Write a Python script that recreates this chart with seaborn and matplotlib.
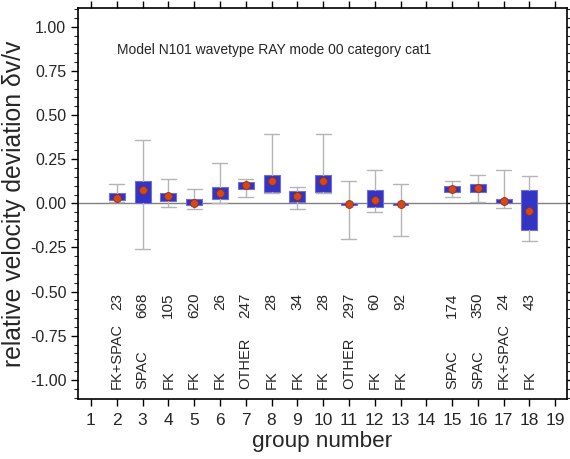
import numpy as np
import pandas as pd
import matplotlib
matplotlib.use('Agg')
import matplotlib.pyplot as plt
import seaborn as sns
from matplotlib.ticker import MultipleLocator, FormatStrFormatter

# ── Data ─────────────────────────────────────────────────────
groups     = [2, 3, 4, 5, 6, 7, 8, 9, 10, 11, 12, 13, 15, 16, 17, 18]
whisk_low  = [0.007, -0.256, -0.021, -0.034, 0.004, 0.038, 0.060, -0.030, 0.060, -0.203, -0.049, -0.185, 0.034, 0.007, -0.026, -0.216]
box_low    = [0.017, 0.004, 0.013, -0.009, 0.026, 0.081, 0.066, 0.007, 0.066, -0.011, -0.021, -0.009, 0.062, 0.062, 0.000, -0.153]
box_high   = [0.060, 0.128, 0.056, 0.023, 0.092, 0.122, 0.160, 0.072, 0.160, 0.004, 0.075, 0.004, 0.096, 0.109, 0.026, 0.073]
whisk_high = [0.111, 0.358, 0.140, 0.081, 0.226, 0.140, 0.392, 0.092, 0.392, 0.126, 0.188, 0.111, 0.124, 0.160, 0.190, 0.154]
means      = [0.032, 0.073, 0.040, 0.004, 0.060, 0.102, 0.126, 0.040, 0.126, -0.006, 0.021, -0.002, 0.079, 0.089, 0.015, -0.045]
counts     = [23, 668, 105, 620, 26, 247, 28, 34, 28, 297, 60, 92, 174, 350, 24, 43]
methods    = ['FK+SPAC', 'SPAC', 'FK', 'FK', 'FK', 'OTHER', 'FK', 'FK', 'FK',
              'OTHER', 'FK', 'FK', 'SPAC', 'SPAC', 'FK+SPAC', 'FK']
all_groups = list(range(1, 20))

df = pd.DataFrame({'group': groups, 'mean': means})

sns.set_theme(style='ticks')
plt.rcParams['font.family'] = ['Liberation Sans', 'DejaVu Sans']

fig = plt.figure(figsize=(5.7, 4.59), dpi=100)
ax = fig.add_axes([0.137, 0.131, 0.8575, 0.852])

# zero reference line
ax.axhline(0, color='#808080', lw=1.0, zorder=1)

# boxes from the given statistics
stats = [{'whislo': wl, 'q1': bl, 'med': (bl + bh) / 2, 'q3': bh, 'whishi': wh, 'fliers': []}
         for wl, bl, bh, wh in zip(whisk_low, box_low, box_high, whisk_high)]
ax.bxp(stats, positions=groups, widths=0.62, patch_artist=True, showfliers=False,
       boxprops=dict(facecolor='#3333c4', edgecolor='#6f6fd6', linewidth=0.8),
       medianprops=dict(linewidth=0),
       whiskerprops=dict(color='#b5b5b5', linewidth=1.0),
       capprops=dict(color='#b5b5b5', linewidth=1.0),
       capwidths=0.58, manage_ticks=False, zorder=2)

# mean markers
sns.scatterplot(data=df, x='group', y='mean', ax=ax, s=32, color='#d24a1c',
                edgecolor='#9a2a10', linewidth=0.6, zorder=4)

# counts and method labels
for g, c, m in zip(groups, counts, methods):
    ax.text(g, -0.505, str(c), rotation=90, ha='center', va='top', fontsize=11)
    ax.text(g, -1.05, m, rotation=90, ha='center', va='bottom', fontsize=10.5)

ax.text(2.0, 0.87, 'Model N101 wavetype RAY mode 00 category cat1',
        ha='left', va='center', fontsize=10)

ax.set_xlim(0.5, 19.45)
ax.set_ylim(-1.107, 1.107)
ax.set_xticks(all_groups)
ax.set_yticks(np.arange(-1.0, 1.01, 0.25))
ax.yaxis.set_minor_locator(MultipleLocator(0.05))
ax.yaxis.set_major_formatter(FormatStrFormatter('%.2f'))
ax.tick_params(axis='both', which='major', direction='out', length=5, width=1,
               top=True, right=True, color='black')
ax.tick_params(axis='y', which='major', labelsize=11.5)
ax.tick_params(axis='x', which='major', labelsize=12.5, pad=5)
ax.tick_params(axis='y', which='minor', direction='out', length=3, width=0.8,
               left=True, right=True)
for s in ax.spines.values():
    s.set_visible(True)
    s.set_linewidth(1.2)
    s.set_color('black')

ax.set_xlabel('group number', fontsize=16.2, labelpad=2)
ax.set_ylabel('relative velocity deviation δv/v', fontsize=17.8, labelpad=3)

fig.savefig('out.png', dpi=100)
